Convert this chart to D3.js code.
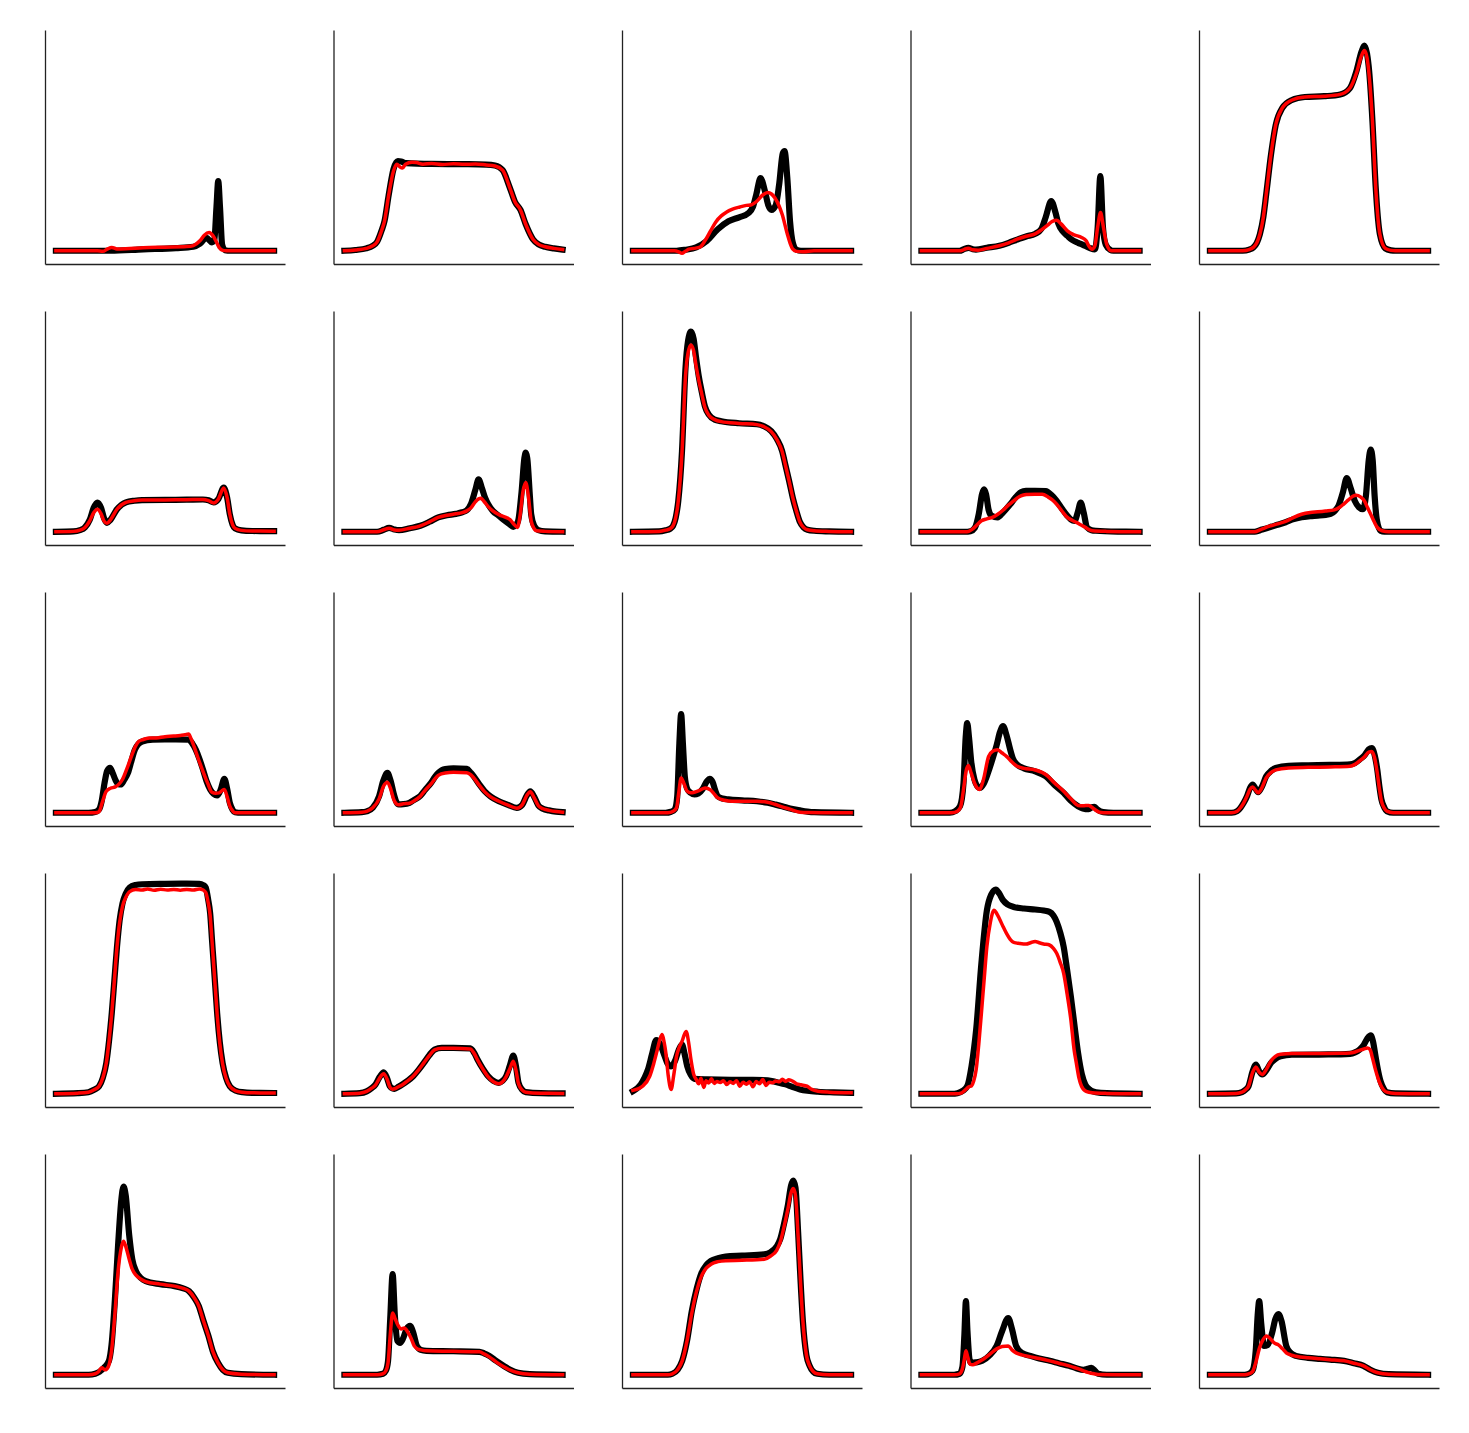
<!DOCTYPE html>
<html><head><meta charset="utf-8">
<script src="https://cdn.jsdelivr.net/npm/d3@7"></script>
<style>body{margin:0;background:#fff}svg{display:block}</style>
</head><body><svg id="chart" width="1469" height="1433"></svg>
<script>
// x: position across the profile (0..100), y: intensity (shared units)
const black01=[[0,0],[25,0],[40,0.7],[55,1.3],[63,2],[66,3.5],[69,6.5],[71.5,4.2],[72.6,5.5],[73.6,22],[74.4,35],[75.2,22],[76.2,3],[77.5,0.3],[80,0],[100,0]];
const red01=[[0,0],[19,0],[21.5,-0.3],[23.5,0.8],[25.6,1.7],[28,0.9],[32,1],[40,1.5],[50,1.8],[60,2.1],[63,2.6],[66,5],[68,7.8],[70.2,9.2],[72,7.5],[73.2,5.2],[74.8,1.7],[76.5,0.2],[78,0],[100,0]];
const black02=[[0,0],[5,0.4],[10,1.2],[13,2.5],[15,4.5],[17,10],[18.4,15],[20.3,28],[22.5,41],[24.5,45],[26,44.8],[28.2,44],[40,43.6],[55,43.5],[65,43.3],[69,42.8],[72.5,40.5],[75.7,32],[78.2,24.5],[80.7,20.5],[83.1,13.3],[86.4,5.8],[89,3.2],[92,2],[96,1.2],[100,0.6]];
const red02=[[0,0],[5,0.4],[10,1.2],[13,2.5],[15,4.5],[17,10],[18.4,15],[20.3,28],[22.5,40],[24,43.5],[25.5,42],[26.6,41.5],[28,43.5],[31,44.5],[33,44.3],[36,43.5],[40,43.8],[45,43.3],[50,43.7],[55,43.4],[60,43.6],[65,43.1],[69,42.6],[72.5,40.5],[75.7,32],[78.2,24.5],[80.7,20.5],[83.1,13.3],[86.4,5.8],[89,3.2],[92,2],[96,1.2],[100,0.6]];
const black03=[[0,0],[20,0],[24,0.5],[29,1.7],[33.9,5],[38.9,10.8],[43.8,14.8],[48.7,16.8],[53,19],[55,22],[56.5,28],[58.5,36.5],[60.5,30],[62,23],[63.5,20.5],[65.5,23],[67,33],[68.7,49],[69.5,50],[70.8,36],[72,15],[73.3,4],[75,0.5],[77,0],[100,0]];
const red03=[[0,0],[19,0],[21,-0.5],[22.5,-1.3],[24,-0.3],[25.7,0.8],[28,1.2],[30.7,1.8],[33,5],[35.6,10],[38,14.5],[40.5,17.5],[43,19.5],[45.4,20.8],[49,22],[52,22.8],[54,23],[56.9,25],[59.5,28],[61.8,29.2],[63.5,28.5],[65.1,26.5],[67,22.5],[68.4,18.3],[70.8,8.3],[72,4],[73.3,0.8],[75,-0.3],[78,-0.5],[83,0],[100,0]];
const black04=[[0,0],[17.5,0],[19.5,0.8],[21.5,1.5],[23.5,0.8],[25,0.6],[30,1.5],[35.7,2.5],[40,4],[43.9,5.6],[48,7.2],[52.1,8.5],[55,11],[57,17],[59.5,25],[61.5,19],[62.8,13.5],[65,9.5],[66.9,7.5],[69,5.5],[71.8,4],[74,3],[77,1.5],[79.5,0.7],[80.8,12],[82,37.5],[83.2,12],[84.5,3],[86.5,0.5],[88,0],[100,0]];
const red04=[[0,0],[17.5,0],[19.5,0.6],[21.5,1.3],[23.5,0.5],[26,0.3],[30,1.2],[35.7,2.5],[40,4],[43.9,5.8],[48,7.3],[52.1,8.5],[55,10.5],[58,13],[60,14.8],[62,15.3],[64,13.5],[66.9,10],[70,8],[73.4,6.7],[75.5,5],[76.7,2.5],[78.2,0.8],[79.5,2.5],[80.8,12],[82.1,19.2],[83.4,12],[84.9,3.3],[87,0],[100,0]];
const black05=[[0,0],[15,0],[18,0.6],[19.9,1.7],[21.5,4],[22.9,8.3],[24.5,17],[25.8,28.3],[28,48.3],[30.2,63.3],[33.2,71.7],[37.6,75.7],[43.5,77.2],[52.4,77.6],[59.7,78.5],[64.2,81.7],[67.1,90],[69.5,100],[70.8,103],[72,99],[73,90],[74.5,65],[76,31.7],[77.9,8.3],[80.4,1.2],[83,0.2],[85,0],[100,0]];
const red05=[[0,0],[15,0],[18,0.6],[19.9,1.7],[21.5,4],[22.9,8.3],[24.5,17],[25.8,28.3],[28,48.3],[30.2,63.3],[33.2,71.7],[37.6,75.7],[43.5,77.2],[52.4,77.6],[59.7,78.5],[64.2,81.7],[67.1,89],[69.5,98],[70.8,100.5],[72,97],[73,88],[74.5,65],[76,31.7],[77.9,8.3],[80.4,1.2],[83,0.2],[85,0],[100,0]];
const black06=[[0,0],[8,0.2],[11,0.8],[13.3,2.2],[15.5,6],[17.3,12],[19,14.7],[20.7,12],[22,7],[23.4,4.5],[25,6],[28,11.3],[32.1,14.8],[36,15.6],[39.5,15.9],[50,16],[60,16.1],[67.4,16.2],[70,15.8],[72.3,14.8],[74.5,16.5],[76.9,22.2],[78.5,17],[79.7,8.8],[81,3.5],[82.1,1.7],[85,0.7],[90,0.4],[100,0.3]];
const red06=[[0,0],[8,0.2],[11,0.8],[13.3,2.2],[15.5,5.5],[17.3,9.5],[19,11.3],[20.7,9],[22,5.5],[23.4,4.3],[25,6],[28,11.3],[32.1,14.8],[36,15.6],[39.5,15.9],[50,16],[60,16.1],[67.4,16.2],[70,15.6],[72.3,14.5],[74.5,16.5],[76.9,22],[78.5,17],[79.7,8.8],[81,3.5],[82.1,1.7],[85,0.7],[90,0.4],[100,0.3]];
const black07=[[0,0],[15,0],[18,1],[20.5,2],[23,1.1],[25,0.8],[30,1.8],[34.8,3],[39,5],[43,7.2],[47,8.3],[51.1,9],[54,9.8],[56.1,10.8],[58,14],[60,21],[61.5,26.3],[63,22],[64.5,17],[65.9,13.8],[68,10.5],[70.8,8],[73,6],[75.7,3.8],[77.4,2.5],[79.5,5],[81.2,20],[82.5,37],[83.1,39.7],[83.8,37],[85,18],[85.6,8.8],[87,3],[88.9,0.8],[92,0.2],[100,0]];
const red07=[[0,0],[15,0],[18,1],[20.5,1.8],[23,0.9],[25,0.8],[30,1.8],[34.8,3],[39,5],[43,7.2],[47,8.3],[51.1,9],[54,9.6],[56.1,10.5],[58,12],[60,15],[61.5,16.5],[62.6,16.8],[64,15.2],[66,12.5],[68,10.5],[71,8.5],[74,7.2],[76,6],[77.5,4],[79.3,2.2],[80.5,8],[81.8,20],[83.1,24.7],[84.3,18],[85.6,5.5],[87,1.5],[88,0.5],[92,0.2],[100,0]];
const black08=[[0,0],[12,0.2],[15,0.8],[17,1.5],[18.4,3],[19.6,7],[20.8,15.5],[22.5,40.5],[24.1,82],[25.3,96],[26.6,100.5],[27.8,97],[29,87],[30.2,78],[31.5,70.5],[33,63],[34.8,58.8],[37.5,56.3],[40.5,55.5],[48.7,54.5],[56.9,54],[60,53],[63.4,50.5],[66,46.5],[68.4,40.5],[70,33],[71.6,25.5],[73.3,17],[74.9,10.5],[76.5,5],[78.2,2.2],[80,1],[83.1,0.5],[90,0.2],[100,0]];
const red08=[[0,0],[12,0.2],[15,0.8],[17,1.5],[18.4,3],[19.6,7],[20.8,15.5],[22.5,40],[24.1,78],[25.3,90],[26.6,93.8],[27.8,91],[29,83],[30.2,76],[31.5,69.5],[33,62.5],[34.8,58.5],[37.5,56.3],[40.5,55.3],[48.7,54.4],[56.9,53.8],[60,52.8],[63.4,50.3],[66,46.3],[68.4,40.3],[70,33],[71.6,25.5],[73.3,17],[74.9,10.5],[76.5,5],[78.2,2.2],[80,1],[83.1,0.5],[90,0.2],[100,0]];
const black09=[[0,0],[20,0],[22.5,0.3],[24.5,2],[26.3,9],[27.8,19],[28.7,21.3],[29.6,19],[30.8,11],[32.2,8],[34.9,7.2],[37.5,9.8],[40.7,13.8],[43,17],[45.6,19.8],[48,20.5],[52,20.6],[57,20.4],[59.5,18.5],[62,15.5],[64.5,11.5],[66.9,8],[68.5,6.2],[70.2,5.5],[71.6,9.5],[73,14.7],[74.4,9.5],[75.9,2.2],[78,0.8],[80,0.5],[90,0.1],[100,0]];
const red09=[[0,0],[21,0],[23.4,1.3],[25.5,3.5],[27.5,5.5],[30,6.5],[32.5,7.2],[35,8.8],[37.4,10.8],[40,13.5],[42.3,15.5],[44,17],[45.6,18],[48,18.7],[52,18.9],[55.4,18.8],[58,17.5],[60,16],[62,13.8],[64.5,10.3],[66.9,7.2],[69,5.8],[71,4.7],[73,3.5],[75.1,2.2],[77,1],[78.4,0.5],[85,0.2],[100,0]];
const black10=[[0,0],[20.5,0],[23,0.8],[27.3,2.2],[31,3.5],[34.7,4.8],[38,6.2],[42,7.3],[46,7.8],[49.4,8.1],[53,8.5],[55.3,9],[57.3,10.5],[59,13.2],[61,20],[62.7,27],[64.5,22],[66.4,15.5],[68.3,12.3],[70.1,11.3],[71.5,18],[72.8,36],[73.7,41.3],[74.6,36],[75.5,18],[76.5,6],[78.2,0.5],[80,0],[100,0]];
const red10=[[0,0],[20.5,0],[23,1],[27.3,2.8],[31,4],[34.7,5.2],[38,7],[42,8.8],[46,9.7],[49.4,10],[53,10.4],[57,11],[59.5,12.3],[61.2,13.8],[63.5,16],[65.5,17.8],[67.1,18.3],[69,17.5],[70.8,15.5],[72.3,12],[73.7,8.8],[75.3,5],[76.7,2.2],[78.9,0.5],[82,0],[100,0]];
const black11=[[0,0],[15,0],[18,0.4],[19.8,1.7],[21,6],[22.3,15],[23.5,21],[24.8,22.5],[26,20],[27.2,16.7],[28.5,14.5],[29.7,14.2],[31.3,16.5],[33,20],[34.6,26],[36.2,31.7],[37.8,34.5],[39.5,35.8],[44.4,36.7],[50,36.8],[55,36.8],[60.8,36.7],[62.5,34.8],[64.1,31.7],[65.8,27],[67.4,21.7],[69,16],[70.7,11.7],[72.3,9.5],[73.9,8.7],[75.5,11.5],[77.2,17],[78.5,12],[79.7,5],[81,1.5],[82.1,0.3],[85,0],[100,0]];
const red11=[[0,0],[18,0],[19.8,0.5],[21.2,5],[23.1,10.8],[25,12.3],[27.2,13],[29,14.5],[30.5,16.7],[32.5,22],[34.6,28.3],[36.3,33],[37.9,35.8],[40,36.8],[42.8,37.5],[46,37.6],[50,38.2],[54,38.5],[57,38.8],[59.2,39.2],[60.8,39.5],[62,37],[63.3,33.3],[65.3,27],[67.4,20.8],[69.5,15],[71.5,10.3],[73.2,9.8],[74.8,10],[76,11],[77.2,11.7],[78.5,8],[79.7,3.3],[81,1],[82.1,0],[100,0]];
const black12=[[0,0],[8,0.3],[10.2,0.7],[13,2.5],[15.9,8.3],[17.8,16],[19.7,20],[21.2,16],[22.5,10],[23.8,5.5],[24.9,4.2],[27,4.3],[29.8,5],[32,6.5],[34.8,8.5],[37,11.5],[39.7,15],[41.5,18],[43,20],[46.2,22],[50,22.3],[56.1,22],[58,20],[59.3,18.3],[62,14],[64.3,10.8],[67,8.2],[70.8,5.8],[75,4],[79,2.5],[81.5,4],[83.5,8.5],[85.2,10.8],[87,8],[88.9,3.7],[91,2],[93.8,1.2],[97,0.6],[100,0.3]];
const red12=[[0,0],[8,0.3],[10.2,0.7],[13,2.5],[15.9,7],[17.8,13],[19.7,15.3],[21.2,12],[22.5,7],[23.8,4.5],[24.9,4],[27,4.5],[29.8,4.8],[32,6],[34.8,8.3],[37,11.3],[39.7,14.5],[41.5,17],[43,18.8],[46.2,20],[50,20.3],[56.1,20.1],[58,19],[59.3,17.5],[62,13.5],[64.3,10.5],[67,8],[70.8,5.8],[75,3.8],[79,2.3],[81.5,4],[83.5,8.5],[85.2,10.5],[87,7.5],[88.9,3.5],[91,2],[93.8,1.2],[97,0.6],[100,0.3]];
const black13=[[0,0],[15,0],[17.5,0.5],[19.2,1.7],[20.3,8],[21.3,35],[22.1,49.5],[22.9,35],[23.8,18],[24.9,12],[26.5,10],[28.2,9.2],[30,9.7],[32,12],[34,16],[35.2,17],[36.5,15.5],[37.8,11],[38.9,8.3],[41,7.2],[43.8,6.7],[50,6.2],[56.9,5.8],[61.8,5],[65,4.2],[68.4,3.3],[72,2.2],[76.6,1.2],[80,0.6],[83.1,0.3],[100,0]];
const red13=[[0,0],[16,0],[18.5,0.8],[20,2.5],[21,10],[22.1,17.5],[23.3,15],[24.9,10.8],[26.5,10],[28.2,10.3],[30.5,11.2],[33.1,12.5],[35.5,11.5],[37.2,9.5],[38.9,7.5],[42,6.3],[45.4,5.8],[50,5.8],[56.9,5.8],[61.8,5.3],[65,4.3],[68.4,3],[72,1.8],[76.6,0.3],[80,0.1],[100,0]];
const black14=[[0,0],[13,0],[15.5,0.8],[17.7,3.3],[19.3,15],[20.3,38],[21,45],[21.8,38],[22.8,26],[24.3,16.7],[25.5,13.5],[26.7,12.5],[28.5,14.5],[30.5,20],[32.5,26.7],[34.5,34],[36,40.5],[37.4,43.5],[39,39],[40.7,31.7],[42,27],[43.9,24.2],[47,22.3],[52.1,20.8],[57,18.3],[61,14],[65.2,10],[68.5,6],[71.8,3.3],[74,2.2],[76.7,1.8],[78.2,2.8],[79.2,3],[80.5,1.8],[83.3,0.3],[88,0],[100,0]];
const red14=[[0,0],[14,0],[16.5,0.8],[18,3],[19.3,11.7],[20.5,21],[21.5,23.7],[22.8,20],[24.3,15],[25.5,12.5],[26.7,11.7],[28.5,17],[30.8,28.3],[32.8,31],[34.9,31.7],[37,30],[39,28.3],[41.5,25.5],[43.9,23.3],[47,22.3],[52.1,21.5],[57,19.2],[61,15],[65.2,10.8],[68.5,7],[71.8,3.7],[74,3.5],[76.7,3.7],[79,2],[81.6,0.3],[85,0],[100,0]];
const black15=[[0,0],[10,0],[12.5,0.8],[14,2.5],[15.5,5],[17,8.3],[18.4,12.5],[19.6,14.2],[20.8,12.3],[22.1,10.3],[23.8,13],[25.8,18.3],[28,21],[30.2,22.5],[36.1,23.6],[45,23.8],[55,24],[64.2,24.3],[66.5,25],[68.6,26.7],[71,29],[72.8,31.8],[74.2,32.5],[75.5,29],[76.7,21.7],[77.7,13],[78.6,6.7],[80,2.5],[81.1,0.8],[84,0],[100,0]];
const red15=[[0,0],[10,0],[12.5,0.8],[14,2.5],[15.5,5],[17,8.3],[18.4,11.8],[19.6,13],[20.8,11.5],[22.1,10],[23.8,12.5],[25.8,17.5],[28,20.2],[30.2,21.5],[36.1,22.5],[45,22.8],[55,23],[64.2,23.3],[66.5,24.3],[68.6,26],[71,28.3],[72.8,30.5],[74.2,30.8],[75.5,27.5],[76.7,20],[77.7,12],[78.6,6],[80,2.2],[81.1,0.8],[84,0],[100,0]];
const black16=[[0,0],[10,0.3],[14.9,0.8],[17.5,2],[19.8,3.8],[21.5,8],[23.1,15.5],[24.4,27],[25.6,40.5],[26.8,57],[28,73.8],[29.2,87],[30.5,95.5],[32,100.5],[33.8,103.5],[36.5,104.8],[39.5,105.2],[50,105.4],[60,105.5],[65.7,105.4],[67.5,104.8],[68.7,103.5],[69.7,98],[70.7,90.5],[71.5,78],[72.3,65.5],[73.1,53],[73.9,40.5],[75.1,26],[76.4,15.5],[78,8],[79.7,3.8],[82.5,1.5],[85.4,0.8],[90,0.5],[100,0.4]];
const red16=[[0,0],[10,0.3],[14.9,0.8],[17.5,2],[19.8,3.8],[21.5,8],[23.1,15.5],[24.4,27],[25.6,40.5],[26.8,57],[28,73.8],[29.2,86],[30.5,94],[32,98.5],[33.8,101.5],[36.5,102.5],[39.5,102.3],[42,102.8],[45,102.2],[48,102.7],[51,102.3],[54,102.6],[57,102.2],[60,102.6],[63,102.3],[65.7,102.8],[67.5,102.3],[68.7,101],[69.7,96.5],[70.7,89.5],[71.5,77.5],[72.3,65],[73.1,52.5],[73.9,40],[75.1,25.5],[76.4,15],[78,7.8],[79.7,3.8],[82.5,1.5],[85.4,0.8],[90,0.5],[100,0.4]];
const black17=[[0,0],[7,0.3],[10.2,1.2],[12.5,2.8],[14.3,4.7],[16.2,8.5],[18,10.8],[19.5,8],[20.8,3.8],[22,2.7],[23,2.5],[24.8,3.5],[26.6,4.7],[29,6.5],[31.5,8.8],[34,12],[36.4,15.5],[39,19.5],[41.3,22.2],[44.6,23],[50,23],[57.7,22.8],[59.5,20.5],[61,17.2],[63.5,12.5],[65.9,8.8],[68.3,6.5],[70.8,5.5],[72.5,6.5],[74.1,8.8],[75.8,14],[77.4,19.2],[78.6,14],[79.8,5.5],[81.5,2],[83.1,0.8],[90,0.3],[100,0.2]];
const red17=[[0,0],[7,0.3],[10.2,1.2],[12.5,2.8],[14.3,4.5],[16.2,8],[18,10],[19.5,7.5],[20.8,3.5],[22,2.3],[23,2.5],[24.8,3.5],[26.6,4.5],[29,6.5],[31.5,8.8],[34,12],[36.4,15.5],[39,19.3],[41.3,22],[44.6,22.8],[50,22.8],[57.7,22.5],[59.5,20.2],[61,17],[63.5,12.3],[65.9,8.5],[68.3,6],[70.8,5],[72.5,6],[74.1,8.5],[75.8,12.5],[77.4,16.3],[78.6,12],[79.8,5],[81.5,1.8],[83.1,0.8],[90,0.3],[100,0.2]];
const black18=[[0,1.3],[3.6,4.7],[5.3,8],[6.9,12.2],[8.8,20],[10.7,27],[12.5,25],[14.3,19.7],[16,15],[17.5,13.8],[19.3,16.5],[21,22],[22.5,24.7],[23.7,20],[24.9,13.8],[26.5,9.5],[28.2,7.5],[33.9,7.2],[45,7],[55,7],[61.8,6.8],[66,5.8],[70,4.7],[73,3.5],[76.6,2.2],[80,1.5],[84.8,1],[92,0.7],[100,0.5]];
const red18=[[0,1.7],[4.4,3.8],[7.7,8.8],[9.5,15],[11,21.3],[12.3,27],[13.4,29.7],[14.3,26],[15.1,20.5],[16.2,9],[17.5,2.2],[18.8,10],[20,18.8],[21.3,23.5],[22.5,26.3],[23.5,29.5],[24.4,31.3],[25.5,26],[26.6,17.2],[27.8,10],[29,7.2],[30.2,5],[31.2,7.8],[32.5,3.2],[33.5,6.5],[34.7,5.4],[36,7.5],[37.3,5.2],[38.5,6.2],[40,5.6],[41.5,6.5],[43,4.6],[44.5,6],[46,5.2],[47.5,6.6],[49,3.8],[50.5,5.8],[52,4.8],[53.5,6],[55,3.5],[56.5,6.2],[58,5],[59.5,7.2],[61,4.2],[62.5,5.8],[64,5.5],[65.5,6.4],[67,6],[68.5,7.3],[70,6.2],[71.5,7],[73.3,6.3],[75,5],[77,4.5],[79.8,3.8],[82,2.2],[84.8,1.3],[90,0.8],[100,0.5]];
const black19=[[0,0],[14,0],[16.5,0.3],[19,1.5],[21,3.8],[23,14],[25.1,32.2],[27.5,65.5],[30,92],[32,100],[34.1,102.5],[35.7,100.5],[37.4,97.2],[39.5,95],[42.3,93.8],[47,93],[52.1,92.5],[56,92],[58.7,91.3],[60.5,89.5],[62,86.3],[63.6,81],[65.2,73.8],[66.8,62],[68.5,48.8],[70.2,34],[71.8,20.5],[73.5,10],[75.1,4.7],[77.5,1.8],[80,0.8],[85,0.3],[100,0]];
const red19=[[0,0],[16,0],[18.5,0.5],[20,1.8],[21.8,3.5],[23,4],[24,6.5],[25.1,12.2],[26.3,25],[27.5,40.5],[28.8,58],[30,73.8],[31.6,86],[33.3,92.2],[34.5,90.5],[35.7,88],[37.4,84],[39,80.5],[40.7,77.5],[42.3,76],[45,75.5],[48,75.2],[50,75.8],[52.1,76.5],[54,75.8],[56,75.2],[58.7,74.7],[60.5,73],[62,70.5],[63.6,66],[65.2,60.5],[66.8,50],[68.5,37.2],[70,22],[71,15.5],[72.2,8],[73.4,3.8],[75.5,1.2],[78.4,0.5],[85,0.2],[100,0]];
const black20=[[0,0],[12,0.2],[14.7,0.8],[16.3,2],[17.7,3.8],[19.5,11],[21.1,14.7],[22.5,11.5],[24,9.7],[26,12],[28,15.5],[30,17.5],[32.4,18.8],[37.6,19.6],[50,19.7],[60,19.8],[64.2,20],[66.5,20.8],[68.6,22.2],[70.5,24.5],[72.3,28],[73.7,29.3],[74.8,26],[75.9,18.8],[77,12],[78.2,6.3],[79.7,2.5],[81.1,0.8],[85,0.2],[100,0]];
const red20=[[0,0],[12,0.2],[14.7,0.8],[16.3,2],[17.7,3.8],[19.5,10.5],[21.1,13.5],[22.5,11],[24,9.7],[26,12.5],[28,16.5],[30,18.8],[32.4,19.8],[37.6,20.2],[50,20.2],[60,20.3],[64.2,20.5],[66.5,21],[68.6,21.8],[70.5,22.5],[72.3,23],[73.5,22],[74.5,18],[75.9,12],[77,8],[78.2,4.5],[79.7,1.8],[81.1,0.8],[85,0.2],[100,0]];
const black21=[[0,0],[15,0],[18,0.5],[20,1.5],[22,3.5],[24.3,7],[25.5,15],[27,37],[28.5,65],[30,88],[31,94.5],[32,90],[33.6,70],[35,58],[36.7,52],[39,48.5],[41.2,47],[47.8,45.5],[54.4,44.5],[58,43.5],[61,42],[63.5,38.5],[65.5,34.5],[67.5,27.5],[69.9,19.5],[72,11.5],[74.3,6],[76.5,2.5],[78.8,1],[85,0.3],[100,0]];
const red21=[[0,0],[15,0],[18,0.5],[19.5,1.5],[21,3.5],[22.5,2.5],[24,4],[25.5,12],[27,30],[28.5,52],[30,64],[31,67],[32,64.5],[33.6,58],[35,53],[36.7,50],[39,48],[41.2,46.8],[47.8,45.5],[54.4,44.5],[58,43.5],[61,42],[63.5,38.5],[65.5,34.5],[67.5,27.5],[69.9,19.5],[72,11.5],[74.3,6],[76.5,2.5],[78.8,1],[85,0.3],[100,0]];
const black22=[[0,0],[15,0],[17.7,0.5],[19,2],[20,7],[21,28],[22.1,50.5],[23.1,30],[24.3,17],[25.5,16],[26.8,18],[28.5,23],[30.1,24.5],[31.6,21],[33.2,14.5],[35,12.5],[37.6,12],[50,11.8],[61.9,11.5],[64,10.8],[66.4,9.5],[69.5,7],[73,4.5],[76,2.5],[79.6,1],[85,0.3],[100,0]];
const red22=[[0,0],[15,0],[17.7,0.5],[19,2],[20,6],[21,20],[22.1,31],[23.3,28],[24.5,25],[26,23],[27.5,23.5],[29,21.5],[30.5,18.5],[32,14.5],[33.5,13],[35,12.5],[37.6,12],[50,11.8],[61.9,11.5],[64,10.5],[66.4,9],[69.5,6.5],[73,4],[76,2.3],[79.6,1],[85,0.3],[100,0]];
const black23=[[0,0],[16,0],[18.1,0.5],[20.5,2.5],[22.6,7],[24.8,17],[27,32],[29.2,43],[31.4,51],[33.6,55],[35.8,57.2],[39,58.5],[42.5,59.3],[50,59.8],[60.2,60.5],[63,61.5],[65.9,64.5],[67.5,68],[69,74.5],[71,85],[72.5,95],[73.5,97.5],[74.5,94],[75.7,72],[76.8,48],[77.9,27],[79.5,10],[81,4.5],[82.7,1.5],[84.5,0.5],[90,0],[100,0]];
const red23=[[0,0],[16,0],[18.1,0.5],[20.5,2.5],[22.6,7],[24.8,17],[27,31],[29.2,42],[31.4,49.5],[33.6,53.5],[35.8,55.5],[39,56.8],[42.5,57.3],[50,57.5],[60.2,58],[63,59.5],[65.9,62.5],[67.5,66.5],[69,73],[71,83],[72.5,91.5],[73.5,93.5],[74.5,90],[75.7,70],[76.8,47],[77.9,27],[79.5,10],[81,4.5],[82.7,1.5],[84.5,0.5],[90,0],[100,0]];
const black24=[[0,0],[15,0],[17.5,0.5],[18.8,4],[19.7,20],[20.4,37],[21.1,22],[22,8],[22.6,6],[25,6.2],[27.9,7],[31,9.5],[34.5,14.5],[37,22],[39.8,28.5],[41.5,23],[43.4,14.5],[46,11],[50,9.5],[54,8.2],[58.8,7],[63,5.8],[67.7,4.5],[71,3.3],[74.3,2.5],[76.2,3],[77.9,3.5],[79.5,2],[81,0.5],[85,0],[100,0]];
const red24=[[0,0],[15,0],[17.5,0.5],[18.8,3],[19.7,8],[20.4,12],[21.2,9],[22.2,5.5],[23.5,5],[25.5,6],[27.9,7.5],[31,10],[34.5,13],[37,14.2],[39.8,14.5],[41.5,12.5],[43.4,11],[46,10],[50,9],[54,8.2],[58.8,7],[63,5.8],[67.7,4.5],[71,3.3],[74.3,2],[76.2,1.2],[77.9,0.8],[79.5,0.4],[81,0.2],[100,0]];
const black25=[[0,0],[15,0],[17.3,0.3],[19.5,2],[21,12],[21.9,30],[22.6,37],[23.5,26],[24.8,14.5],[26.5,15],[28.5,21],[30,28],[31.4,30.5],[32.8,27],[35,14.5],[37,11],[39.4,9.5],[45,8.5],[50.4,8],[55,7.6],[61.5,7],[66,5.8],[70.4,4.5],[73.5,2.5],[77,1],[82,0.3],[100,0]];
const red25=[[0,0],[15,0],[17.3,0.3],[19.5,1.5],[21,6],[22.6,13],[24.3,17.5],[26,19.5],[27.8,18],[29.5,16],[31.4,15],[33.3,13],[35,11],[37,10],[39.4,9.3],[45,8.5],[50.4,8],[55,7.6],[61.5,7],[66,5.8],[70.4,4.5],[73.5,2.5],[77,1],[82,0.3],[100,0]];

const blackSeries=[black01,black02,black03,black04,black05,black06,black07,black08,black09,black10,black11,black12,black13,black14,black15,black16,black17,black18,black19,black20,black21,black22,black23,black24,black25];
const redSeries=[red01,red02,red03,red04,red05,red06,red07,red08,red09,red10,red11,red12,red13,red14,red15,red16,red17,red18,red19,red20,red21,red22,red23,red24,red25];

const nCols=5, W=240, H=234, left0=45, top0=30, colPitch=288.5, rowPitch=281;
const svg=d3.select('#chart');
svg.append('rect').attr('width',1469).attr('height',1433).attr('fill','#fff');

// shared axes like matplotlib sharex/sharey with 5% margins
const allPts=blackSeries.concat(redSeries).flat();
const xMin=d3.min(allPts,d=>d[0]), xMax=d3.max(allPts,d=>d[0]);
const yMin=d3.min(allPts,d=>d[1]), yMax=d3.max(allPts,d=>d[1]);
const xPad=0.05*(xMax-xMin), yPad=0.05*(yMax-yMin);
const x=d3.scaleLinear().domain([xMin-xPad,xMax+xPad]).range([0,W]);
const y=d3.scaleLinear().domain([yMin-yPad,yMax+yPad]).range([H,0]);
const line=d3.line().x(d=>x(d[0])).y(d=>y(d[1])).curve(d3.curveMonotoneX);

blackSeries.forEach((bs,i)=>{
  const r=Math.floor(i/nCols), c=i%nCols;
  const g=svg.append('g').attr('transform',`translate(${left0+c*colPitch},${top0+r*rowPitch})`);
  g.append('path').datum(bs).attr('d',line).attr('fill','none').attr('stroke','#000')
    .attr('stroke-width',6.2).attr('stroke-linecap','square').attr('stroke-linejoin','round');
  g.append('path').datum(redSeries[i]).attr('d',line).attr('fill','none').attr('stroke','#ff0000')
    .attr('stroke-width',3.5).attr('stroke-linecap','square').attr('stroke-linejoin','round');
  const ax=g.append('g').attr('transform',`translate(0,${H})`).call(d3.axisBottom(x).ticks(0).tickSizeOuter(0));
  const ay=g.append('g').call(d3.axisLeft(y).ticks(0).tickSizeOuter(0));
  [ax,ay].forEach(a=>{a.selectAll('.tick').remove();a.select('.domain').attr('stroke','#222').attr('stroke-width',1.3);});
});
</script>
</body></html>
